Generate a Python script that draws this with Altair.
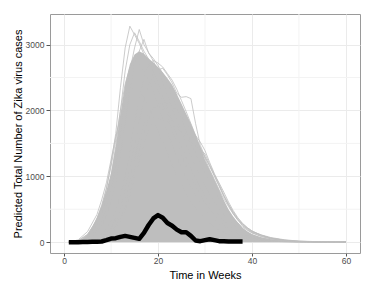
import altair as alt
import pandas as pd

# ---- observed weekly cases (thick black line) ----
obs_weeks = list(range(1, 39))
obs_cases = [0, 0, 0, 2, 3, 5, 5, 10, 30, 55, 60, 80, 95, 80, 65, 50, 140, 260, 360, 410,
             370, 290, 250, 190, 150, 150, 95, 25, 15, 30, 45, 30, 15, 15, 10, 10, 8, 8]

# ---- dense band covered by the bulk of the simulated curves ----
band_weeks = [1, 2, 3, 4, 5, 6, 7, 8, 9, 10, 11, 12, 13, 14, 15, 16, 17, 18, 19, 20, 21, 22, 23,
              24, 25, 26, 27, 28, 29, 30, 31, 32, 33, 34, 35, 36, 37, 38, 39, 40, 42, 44, 46, 48,
              50, 55, 60]
band_upper = [0, 3, 15, 50, 120, 230, 380, 560, 780, 1050, 1450, 1950, 2400, 2700, 2850, 2900,
              2860, 2790, 2730, 2660, 2580, 2490, 2390, 2250, 2100, 1950, 1800, 1630, 1450, 1250,
              1100, 950, 800, 640, 500, 390, 300, 220, 165, 125, 75, 42, 22, 12, 7, 3, 1]

# ---- individual simulated curves visible at the edges of the band ----
sim_weeks = [1, 3, 5, 7, 8, 9, 10, 11, 12, 13, 14, 15, 16, 17, 18, 19, 20, 21, 22, 23, 24, 25,
             26, 27, 28, 29, 30, 31, 32, 33, 34, 35, 36, 37, 38, 39, 40, 42, 44, 47, 50, 55, 60]
sim_1 = [0, 25, 120, 330, 520, 800, 1200, 1650, 2350, 2950, 3280, 3150, 3020, 2850, 2700, 2500,
         2300, 2100, 1900, 1700, 1500, 1320, 1150, 1000, 850, 720, 600, 500, 410, 330, 270, 220,
         170, 130, 100, 80, 60, 35, 20, 10, 5, 2, 0]
sim_2 = [0, 15, 90, 260, 430, 680, 1000, 1450, 2000, 2600, 3000, 3180, 3050, 2900, 2780, 2600,
         2420, 2220, 2020, 1820, 1630, 1450, 1280, 1120, 970, 830, 700, 590, 490, 400, 320, 260,
         210, 165, 130, 100, 78, 45, 26, 12, 6, 2, 0]
sim_3 = [0, 10, 60, 190, 320, 520, 800, 1150, 1650, 2150, 2600, 2950, 3230, 3000, 2880, 2750,
         2600, 2420, 2230, 2040, 1850, 1660, 1480, 1310, 1150, 1000, 860, 730, 620, 510, 420,
         340, 270, 215, 170, 130, 100, 60, 34, 15, 7, 2, 0]
sim_4 = [0, 8, 45, 150, 250, 400, 620, 900, 1300, 1800, 2300, 2700, 2900, 3080, 2870, 2790,
         2680, 2560, 2400, 2230, 2050, 1870, 1690, 1520, 1350, 1190, 1040, 900, 770, 650, 540,
         440, 360, 290, 230, 180, 140, 85, 50, 22, 10, 3, 1]
sim_5 = [0, 3, 20, 70, 120, 200, 320, 480, 700, 1000, 1380, 1800, 2200, 2500, 2700, 2760, 2720,
         2660, 2560, 2460, 2320, 2150, 1980, 1800, 1620, 1440, 1270, 1100, 950, 800, 660, 540,
         430, 340, 270, 210, 160, 100, 60, 28, 12, 4, 1]
sim_6 = [0, 2, 12, 45, 80, 140, 230, 360, 540, 800, 1120, 1480, 1850, 2150, 2400, 2550, 2620,
         2640, 2540, 2420, 2260, 2200, 2210, 2180, 1800, 1470, 1300, 1150, 1000, 850, 700, 570,
         460, 360, 280, 220, 170, 105, 62, 30, 13, 4, 1]
sim_7 = [0, 1, 8, 30, 55, 95, 160, 250, 380, 560, 800, 1080, 1380, 1650, 1870, 2020, 2100, 2120,
         2100, 2060, 2000, 1900, 1800, 1700, 1620, 1520, 1390, 1210, 1040, 880, 720, 580, 450,
         345, 260, 200, 155, 110, 70, 35, 16, 5, 1]
sim_8 = [0, 1, 6, 25, 45, 80, 135, 210, 320, 480, 700, 960, 1240, 1500, 1700, 1830, 1880, 1870,
         1830, 1770, 1720, 1680, 1650, 1610, 1560, 1420, 1290, 1160, 1010, 860, 700, 560, 430,
         330, 250, 190, 145, 88, 50, 22, 9, 3, 0]
sim_9 = [0, 2, 10, 40, 70, 120, 200, 310, 460, 680, 950, 1260, 1560, 1800, 1960, 2040, 2060,
         2020, 1950, 1860, 1760, 1670, 1590, 1520, 1460, 1400, 1340, 1180, 1030, 900, 760, 610,
         480, 370, 285, 220, 170, 105, 60, 26, 11, 3, 0]
sim_10 = [0, 35, 160, 420, 640, 900, 1250, 1600, 1900, 2150, 2300, 2350, 2300, 2200, 2050, 1880,
          1700, 1520, 1340, 1170, 1010, 870, 740, 620, 520, 430, 350, 285, 230, 185, 150, 120,
          95, 75, 60, 47, 37, 22, 13, 6, 3, 1, 0]
sim_11 = [0, 20, 110, 350, 560, 820, 1150, 1550, 2000, 2400, 2650, 2750, 2700, 2600, 2450, 2270,
          2080, 1880, 1680, 1480, 1300, 1130, 980, 840, 710, 600, 500, 415, 340, 280, 228, 185,
          150, 120, 95, 75, 58, 34, 20, 9, 4, 1, 0]

sims = [sim_1, sim_2, sim_3, sim_4, sim_5, sim_6, sim_7, sim_8, sim_9, sim_10, sim_11]

# ---- axis tick values ----
x_ticks = [0, 20, 40, 60]
y_ticks = [0, 1000, 2000, 3000]
x_minor = [10, 30, 50]
y_minor = [500, 1500, 2500]

GREY = "#BEBEBE"

obs_df = pd.DataFrame({"week": obs_weeks, "cases": obs_cases})
band_df = pd.DataFrame({"week": band_weeks, "upper": band_upper, "lower": [0] * len(band_weeks)})
sim_df = pd.DataFrame([
    {"sim": i, "week": w, "cases": v}
    for i, s in enumerate(sims) for w, v in zip(sim_weeks, s)
])

xscale = alt.Scale(domain=[-3, 63], nice=False, zero=False)
yscale = alt.Scale(domain=[-165, 3465], nice=False, zero=False)

xaxis = alt.Axis(values=x_ticks, title="Time in Weeks", format="d",
                 tickSize=3, labelPadding=0.5, titlePadding=4)
yaxis = alt.Axis(values=y_ticks, title="Predicted Total Number of Zika virus cases", format="d",
                 tickSize=4, labelPadding=2, titlePadding=2)

minor_x = alt.Chart(pd.DataFrame({"v": x_minor})).mark_rule(color="#F3F3F3", strokeWidth=1).encode(
    x=alt.X("v:Q", scale=xscale, axis=xaxis))
minor_y = alt.Chart(pd.DataFrame({"v": y_minor})).mark_rule(color="#F3F3F3", strokeWidth=1).encode(
    y=alt.Y("v:Q", scale=yscale, axis=yaxis))

band = alt.Chart(band_df).mark_area(color=GREY, opacity=1, strokeWidth=0).encode(
    x=alt.X("week:Q", scale=xscale, axis=xaxis),
    y=alt.Y("upper:Q", scale=yscale, axis=yaxis),
    y2="lower:Q",
)

lines = alt.Chart(sim_df).mark_line(color=GREY, strokeWidth=0.8).encode(
    x=alt.X("week:Q", scale=xscale, axis=xaxis),
    y=alt.Y("cases:Q", scale=yscale, axis=yaxis),
    detail="sim:N",
)

observed = alt.Chart(obs_df).mark_line(color="black", strokeWidth=4.5, strokeJoin="round").encode(
    x=alt.X("week:Q", scale=xscale, axis=xaxis),
    y=alt.Y("cases:Q", scale=yscale, axis=yaxis),
)

chart = alt.layer(minor_x, minor_y, band, lines, observed).properties(
    width=310, height=239,
    autosize=alt.AutoSizeParams(type="none"),
    padding={"left": 42, "top": 6, "right": 4, "bottom": 30},
).configure_view(
    stroke="#9A9A9A", strokeWidth=1
).configure_axis(
    grid=True, gridColor="#EBEBEB", gridWidth=1,
    domain=False,
    tickColor="#555555", tickWidth=1,
    labelColor="#4D4D4D", labelFont="Liberation Sans", labelFontSize=8.5,
    titleFont="Liberation Sans", titleFontSize=11, titleFontWeight="normal", titleColor="black",
)

chart.save("out.html", embed_options={"renderer": "svg", "actions": False})
